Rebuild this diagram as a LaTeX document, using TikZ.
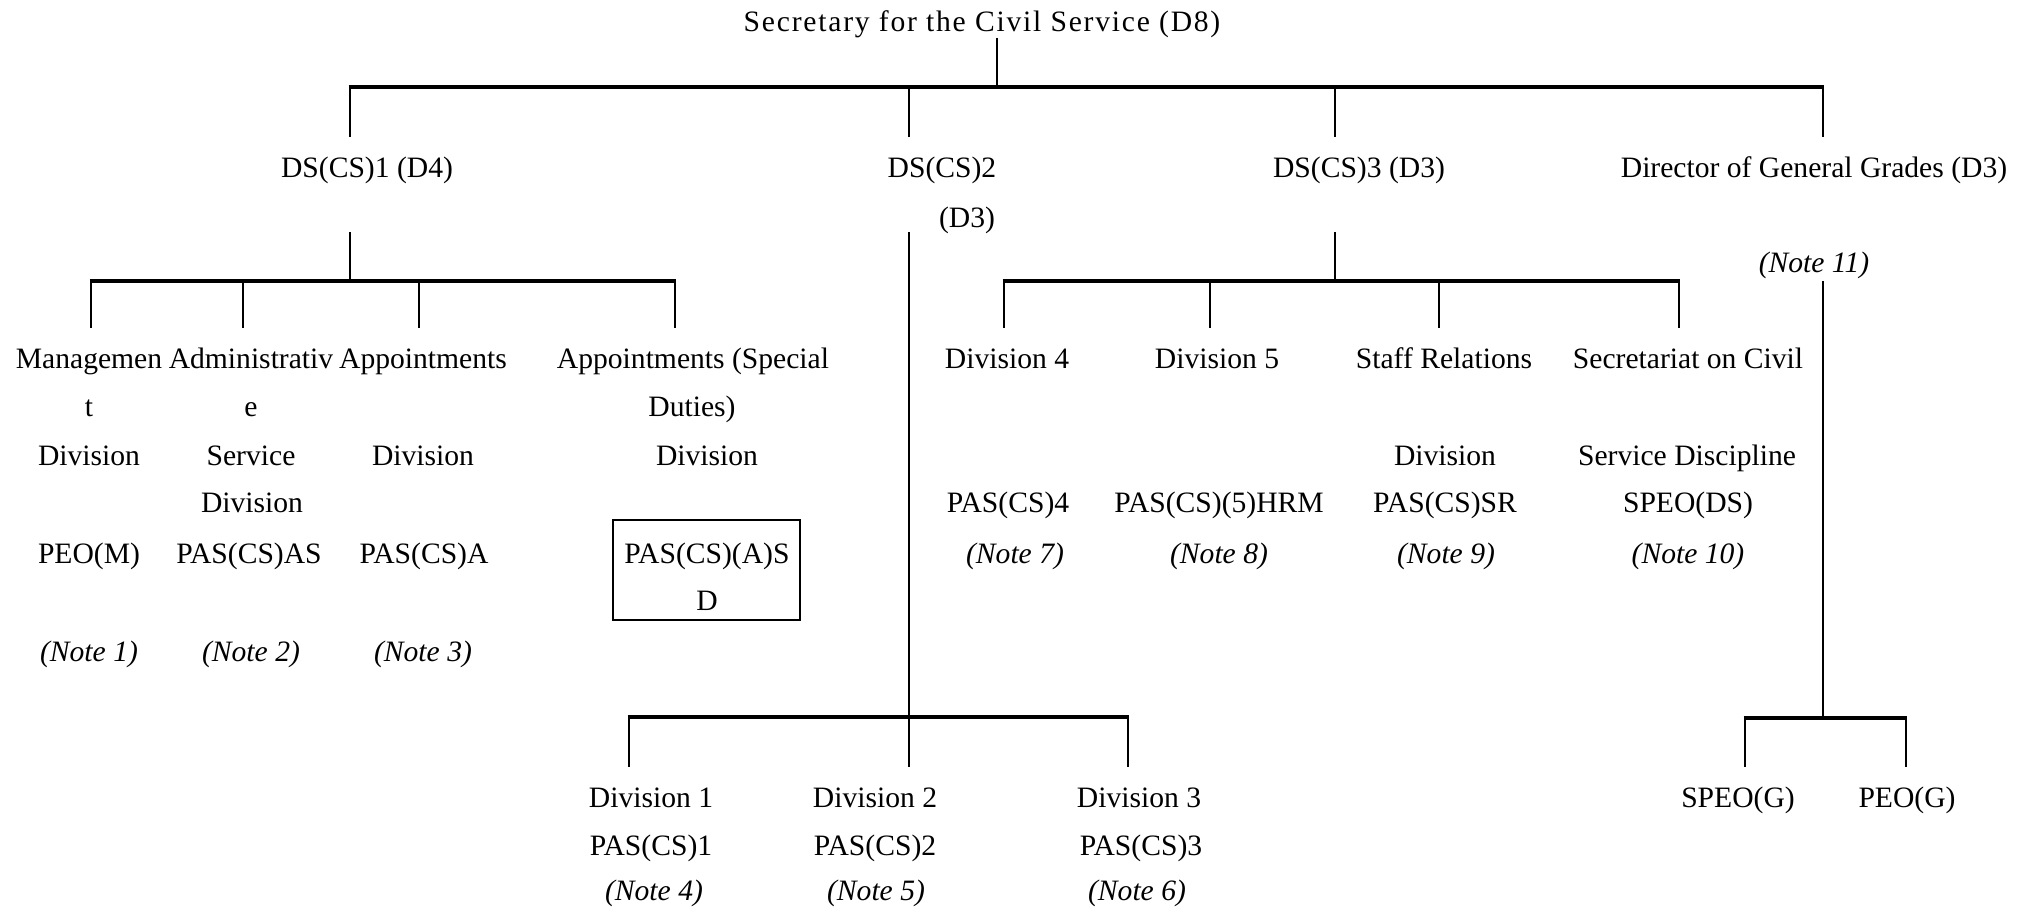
\documentclass[tikz,border=0pt]{standalone}
\usepackage{fontspec}
\setmainfont{Liberation Serif}
\newfontfamily\spacedfont[LetterSpace=6]{Liberation Serif}
\begin{document}
\begin{tikzpicture}[x=0.5pt,y=-0.5pt,
  lbl/.style={inner sep=0pt,anchor=base,font=\fontsize{14.8pt}{17pt}\selectfont},
  note/.style={lbl,font=\fontsize{14.8pt}{17pt}\selectfont\itshape},
  vconn/.style={line width=1.3pt,line cap=butt},
  hconn/.style={line width=1.75pt,line cap=butt},
  boxed/.style={draw,line width=1.3pt}]
\useasboundingbox (0,0) rectangle (2034,909);
% ---------- texts ----------
\node[lbl] (sec) at (982,32) {\spacedfont Secretary for the Civil Service (D8)};
\node[lbl] (ds1) at (367,178) {DS(CS)1 (D4)};
\node[lbl] (ds2a) at (942,178) {DS(CS)2};
\node[lbl] (ds2b) at (967,228) {(D3)};
\node[lbl] (ds3) at (1359,178) {DS(CS)3 (D3)};
\node[lbl] (dgg) at (1814,178) {Director of General Grades (D3)};
\node[note] (n11) at (1814,272) {(Note 11)};
% column 1
\node[lbl] (m1) at (89,368) {Managemen};
\node[lbl] (m2) at (89,416) {t};
\node[lbl] (m3) at (89,465) {Division};
\node[lbl] (m4) at (89,563) {PEO(M)};
\node[note] (m5) at (89,661) {(Note 1)};
% column 2
\node[lbl] (a1) at (251,368) {Administrativ};
\node[lbl] (a2) at (251,416) {e};
\node[lbl] (a3) at (251,465) {Service};
\node[lbl] (a4) at (252,512) {Division};
\node[lbl] (a5) at (249,563) {PAS(CS)AS};
\node[note] (a6) at (251,661) {(Note 2)};
% column 3
\node[lbl] (p1) at (423,368) {Appointments};
\node[lbl] (p2) at (423,465) {Division};
\node[lbl] (p3) at (424,563) {PAS(CS)A};
\node[note] (p4) at (423,661) {(Note 3)};
% column 4
\node[lbl] (s1) at (693,368) {Appointments (Special};
\node[lbl] (s2) at (692,416) {Duties)};
\node[lbl] (s3) at (707,465) {Division};
\draw[boxed] (613,520) rectangle (800,620);
\node[lbl] (s4) at (707,563) {PAS(CS)(A)S};
\node[lbl] (s5) at (707,610) {D};
% DS(CS)3 branch
\node[lbl] (d4a) at (1007,368) {Division 4};
\node[lbl] (d4b) at (1008,512) {PAS(CS)4};
\node[note] (d4c) at (1015,563) {(Note 7)};
\node[lbl] (d5a) at (1217,368) {Division 5};
\node[lbl] (d5b) at (1219,512) {PAS(CS)(5)HRM};
\node[note] (d5c) at (1219,563) {(Note 8)};
\node[lbl] (sra) at (1444,368) {Staff Relations};
\node[lbl] (srb) at (1445,465) {Division};
\node[lbl] (src) at (1445,512) {PAS(CS)SR};
\node[note] (srd) at (1446,563) {(Note 9)};
\node[lbl] (sca) at (1688,368) {Secretariat on Civil};
\node[lbl] (scb) at (1687,465) {Service Discipline};
\node[lbl] (scc) at (1688,512) {SPEO(DS)};
\node[note] (scd) at (1688,563) {(Note 10)};
% DS(CS)2 branch
\node[lbl] (v1a) at (651,807) {Division 1};
\node[lbl] (v1b) at (651,855) {PAS(CS)1};
\node[note] (v1c) at (654,900) {(Note 4)};
\node[lbl] (v2a) at (875,807) {Division 2};
\node[lbl] (v2b) at (875,855) {PAS(CS)2};
\node[note] (v2c) at (876,900) {(Note 5)};
\node[lbl] (v3a) at (1139,807) {Division 3};
\node[lbl] (v3b) at (1141,855) {PAS(CS)3};
\node[note] (v3c) at (1137,900) {(Note 6)};
% Director branch
\node[lbl] (g1) at (1738,807) {SPEO(G)};
\node[lbl] (g2) at (1907,807) {PEO(G)};
% ---------- coordinates ----------
\coordinate (c0t) at (997,38);  \coordinate (c0b) at (997,87);
\coordinate (b0L) at (348.7,87);  \coordinate (b0R) at (1824.3,87);
\coordinate (t1) at (350,137);  \coordinate (t1m) at (350,87);
\coordinate (t2) at (909,137);  \coordinate (t2m) at (909,87);
\coordinate (t3) at (1335,137); \coordinate (t3m) at (1335,87);
\coordinate (t4) at (1823,137); \coordinate (t4m) at (1823,87);
% DS1
\coordinate (u1) at (350,232);  \coordinate (u1b) at (350,281);
\coordinate (b1L) at (89.7,281);  \coordinate (b1R) at (676.3,281);
\coordinate (k1) at (91,328);   \coordinate (k1t) at (91,281);
\coordinate (k2) at (243,328);  \coordinate (k2t) at (243,281);
\coordinate (k3) at (419,328);  \coordinate (k3t) at (419,281);
\coordinate (k4) at (675,328);  \coordinate (k4t) at (675,281);
% DS2
\coordinate (u2) at (909,232);  \coordinate (u2b) at (909,717);
\coordinate (b2L) at (627.7,717); \coordinate (b2R) at (1129.3,717);
\coordinate (j1) at (629,767);  \coordinate (j1t) at (629,717);
\coordinate (j2) at (909,767);
\coordinate (j3) at (1128,767); \coordinate (j3t) at (1128,717);
% DS3
\coordinate (u3) at (1335,232); \coordinate (u3b) at (1335,281);
\coordinate (b3L) at (1002.7,281); \coordinate (b3R) at (1680.3,281);
\coordinate (h1) at (1004,328); \coordinate (h1t) at (1004,281);
\coordinate (h2) at (1210,328); \coordinate (h2t) at (1210,281);
\coordinate (h3) at (1439,328); \coordinate (h3t) at (1439,281);
\coordinate (h4) at (1679,328); \coordinate (h4t) at (1679,281);
% Director
\coordinate (u4) at (1823,281); \coordinate (u4b) at (1823,718);
\coordinate (b4L) at (1743.7,718); \coordinate (b4R) at (1907.3,718);
\coordinate (e1) at (1745,767); \coordinate (e1t) at (1745,718);
\coordinate (e2) at (1906,767); \coordinate (e2t) at (1906,718);
% ---------- connectors ----------
\draw[vconn] (c0t) -- (c0b);
\draw[hconn] (b0L) -- (b0R);
\draw[vconn] (t1m) -- (t1);
\draw[vconn] (t2m) -- (t2);
\draw[vconn] (t3m) -- (t3);
\draw[vconn] (t4m) -- (t4);
\draw[vconn] (u1) -- (u1b);
\draw[hconn] (b1L) -- (b1R);
\draw[vconn] (k1t) -- (k1);
\draw[vconn] (k2t) -- (k2);
\draw[vconn] (k3t) -- (k3);
\draw[vconn] (k4t) -- (k4);
\draw[vconn] (u2) -- (j2);
\draw[hconn] (b2L) -- (b2R);
\draw[vconn] (j1t) -- (j1);
\draw[vconn] (j3t) -- (j3);
\draw[vconn] (u3) -- (u3b);
\draw[hconn] (b3L) -- (b3R);
\draw[vconn] (h1t) -- (h1);
\draw[vconn] (h2t) -- (h2);
\draw[vconn] (h3t) -- (h3);
\draw[vconn] (h4t) -- (h4);
\draw[vconn] (u4) -- (u4b);
\draw[hconn] (b4L) -- (b4R);
\draw[vconn] (e1t) -- (e1);
\draw[vconn] (e2t) -- (e2);
\end{tikzpicture}
\end{document}
